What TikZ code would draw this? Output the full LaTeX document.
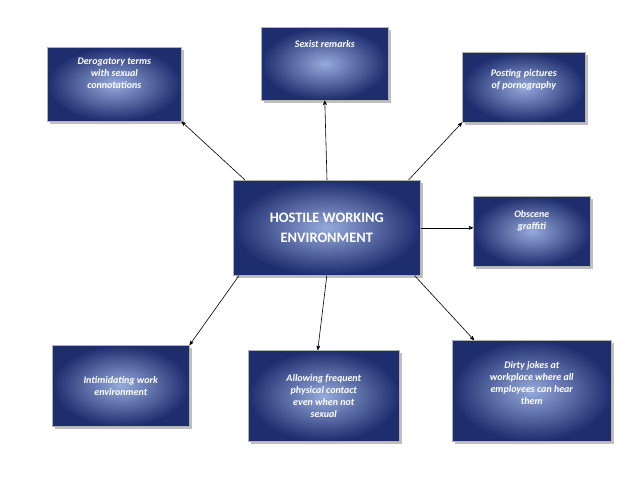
\documentclass[tikz,border=0pt]{standalone}
\usepackage{fontspec}
\setmainfont{Carlito}
\usetikzlibrary{arrows,positioning,shadows}
\definecolor{navy}{RGB}{30,45,110}
\definecolor{paleblue}{RGB}{150,170,220}

\begin{document}
\begin{tikzpicture}[x=1pt,y=-1pt,>=stealth',semithick]
  \tikzstyle{every node}=[font=\bfseries\itshape,text=white,align=center]
  \tikzstyle{topic}=[draw=gray!60,shading=radial,inner color=paleblue,
                     outer color=navy,drop shadow,anchor=north west]

  \useasboundingbox (0,0) rectangle (638,479);
  \node[topic,minimum width=187pt,minimum height=95pt,font=\bfseries\Large] (hostile) at (233,180)
        {HOSTILE WORKING\\[2pt]ENVIRONMENT};
  \node[topic,minimum width=134pt,minimum height=74pt] (derog) at (47,47)
        {Derogatory terms\\with sexual\\connotations\\[10pt]};
  \node[topic,minimum width=127pt,minimum height=73pt] (sexist) at (261,27)
        {Sexist remarks\\[28pt]};
  \node[topic,minimum width=123pt,minimum height=70pt] (posting) at (462,52)
        {Posting pictures\\of pornography\\[4pt]};
  \node[topic,minimum width=117pt,minimum height=70pt] (obscene) at (473,196)
        {Obscene\\graffiti\\[10pt]};
  \node[topic,minimum width=137pt,minimum height=81pt] (intim) at (52,345)
        {Intimidating work\\environment};
  \node[topic,minimum width=151pt,minimum height=91pt] (allow) at (248,350)
        {Allowing frequent\\physical contact\\even when not\\sexual};
  \node[topic,minimum width=159pt,minimum height=101pt] (dirty) at (452,340)
        {Dirty jokes at\\workplace where all\\employees can hear\\them\\[4pt]};

  \draw[black,->] ([xshift=12pt]hostile.north west) -- (derog.south east);
  \draw[black,->] ([xshift=94pt]hostile.north west) -- (sexist.south);
  \draw[black,->] ([xshift=-12pt]hostile.north east) -- (posting.south west);
  \draw[black,->] (hostile.east) -- (obscene.west |- hostile.east);
  \draw[black,->] ([xshift=6pt]hostile.south west) -- (intim.north east);
  \draw[black,->] (hostile.south) -- ([xshift=-6pt]allow.north);
  \draw[black,->] ([xshift=-6pt]hostile.south east) -- ([xshift=22pt]dirty.north west);
\end{tikzpicture}
\end{document}
